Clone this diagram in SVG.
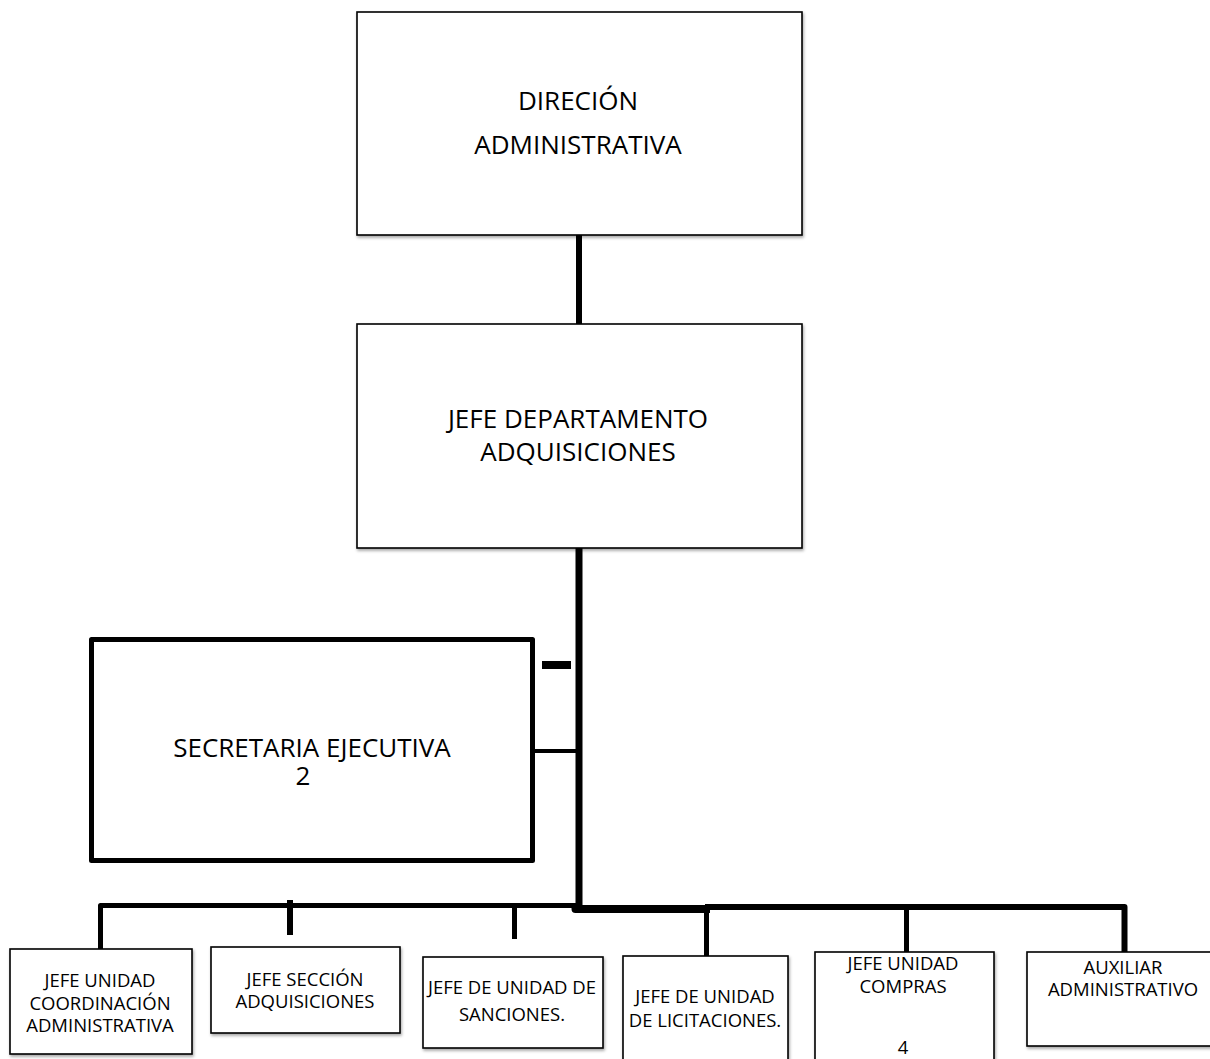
<svg xmlns="http://www.w3.org/2000/svg" width="1210" height="1059" viewBox="0 0 1210 1059">
<defs>
<filter id="sh" x="-5%" y="-5%" width="115%" height="120%">
<feDropShadow dx="1" dy="2" stdDeviation="1.5" flood-color="#000" flood-opacity="0.35"/>
</filter>
<style>
.box{fill:#fff;stroke:#000;stroke-width:1.6;filter:url(#sh)}
.thick{fill:#fff;stroke:#000;stroke-width:5;stroke-linejoin:round}
.t{font-family:"Open Sans","Liberation Sans",sans-serif;fill:#000;text-anchor:middle}
.big{font-size:26px}
.sm{font-size:18.5px}
.ln{stroke:#000;fill:none;stroke-linecap:butt;stroke-linejoin:round}
</style>
</defs>
<rect width="1210" height="1059" fill="#fff"/>
<g id="connectors">
<line class="ln" x1="579" y1="234" x2="579" y2="325" stroke-width="6"/>
<line class="ln" x1="579" y1="547" x2="579" y2="912" stroke-width="7"/>
<rect x="542" y="661" width="29" height="8" fill="#000"/>
<line class="ln" x1="533" y1="751" x2="579" y2="751" stroke-width="4"/>
<polyline class="ln" points="100.5,949 100.5,905.5 579,905.5" stroke-width="5"/>
<line class="ln" x1="290" y1="900" x2="290" y2="935" stroke-width="6"/>
<line class="ln" x1="514.5" y1="905" x2="514.5" y2="939" stroke-width="5"/>
<polyline class="ln" points="575.5,905 575.5,909 710,909" stroke-width="8"/>
<polyline class="ln" points="705,907 1124.5,907 1124.5,952" stroke-width="6"/>
<line class="ln" x1="706.5" y1="909" x2="706.5" y2="956" stroke-width="5"/>
<line class="ln" x1="906.5" y1="907" x2="906.5" y2="952" stroke-width="5"/>
</g>
<g id="n1">
<rect class="box" x="357" y="12" width="445" height="223"/>
<text class="t big" x="578" y="110">DIRECIÓN</text>
<text class="t big" x="578" y="154">ADMINISTRATIVA</text>
</g>
<g id="n2">
<rect class="box" x="357" y="324" width="445" height="224"/>
<text class="t big" x="578" y="428">JEFE DEPARTAMENTO</text>
<text class="t big" x="578" y="461">ADQUISICIONES</text>
</g>
<g id="n3">
<rect class="thick" x="91.5" y="639.5" width="441" height="221"/>
<text class="t big" x="312" y="757">SECRETARIA EJECUTIVA</text>
<text class="t big" x="303" y="785">2</text>
</g>
<g id="n4">
<rect class="box" x="10" y="949" width="182" height="105"/>
<text class="t sm" x="100" y="987">JEFE UNIDAD</text>
<text class="t sm" x="100" y="1010">COORDINACIÓN</text>
<text class="t sm" x="100" y="1032">ADMINISTRATIVA</text>
</g>
<g id="n5">
<rect class="box" x="211" y="947" width="189" height="86"/>
<text class="t sm" x="305" y="986">JEFE SECCIÓN</text>
<text class="t sm" x="305" y="1008">ADQUISICIONES</text>
</g>
<g id="n6">
<rect class="box" x="423" y="957" width="180" height="91"/>
<text class="t sm" x="512" y="994">JEFE DE UNIDAD DE</text>
<text class="t sm" x="512" y="1021">SANCIONES.</text>
</g>
<g id="n7">
<rect class="box" x="623" y="956" width="165" height="120"/>
<text class="t sm" x="705" y="1003">JEFE DE UNIDAD</text>
<text class="t sm" x="705" y="1027">DE LICITACIONES.</text>
</g>
<g id="n8">
<rect class="box" x="815" y="952" width="179" height="120"/>
<text class="t sm" x="903" y="970">JEFE UNIDAD</text>
<text class="t sm" x="903" y="993">COMPRAS</text>
<text class="t sm" x="903" y="1054">4</text>
</g>
<g id="n9">
<rect class="box" x="1027" y="952" width="190" height="94"/>
<text class="t sm" x="1123" y="974">AUXILIAR</text>
<text class="t sm" x="1123" y="996">ADMINISTRATIVO</text>
</g>
</svg>
